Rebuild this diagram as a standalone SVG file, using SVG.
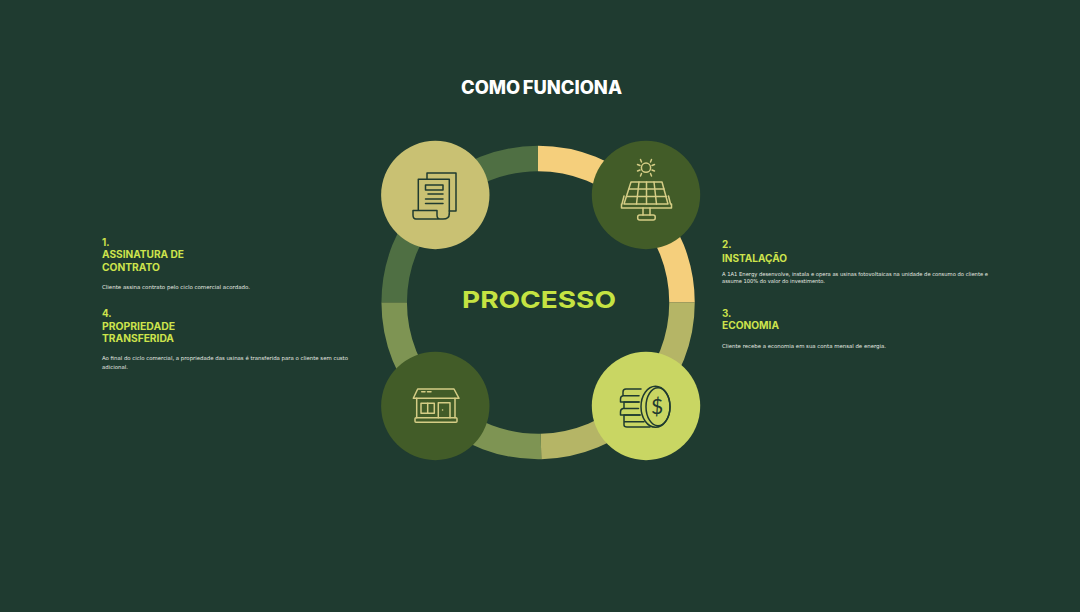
<svg xmlns="http://www.w3.org/2000/svg" width="1080" height="612" viewBox="0 0 1080 612">
<style>
text{font-family:"Inter","Liberation Sans",sans-serif}
.ttl{font-size:18.500px;font-weight:800;fill:#fff;word-spacing:-1.500px}
.big{font-size:23.500px;font-weight:700;fill:#c5e342}
.h{font-size:9.800px;font-weight:700;fill:#cde34c}
.b{font-family:"DejaVu Sans",sans-serif;font-size:5.400px;fill:#e6eae2}
.seg{fill:none;stroke-width:25.500}
.ln{fill:none;stroke-width:1.500;stroke-linejoin:round;stroke-linecap:round}
.dk{stroke:#1f3b30}
.lt{stroke:#d5cd85}
</style>
<rect width="1080" height="612" fill="#1f3b30"/>
<text class="ttl" x="461" y="94" textLength="161" lengthAdjust="spacingAndGlyphs">COMO FUNCIONA</text>
<g id="connectors">
<path class="seg" stroke="#4f6f43" d="M394.200 302.500A144 144 0 0 1 538 158.500"/>
<path class="seg" stroke="#f5cf7c" d="M538 158.500A144 144 0 0 1 682 302.500"/>
<path class="seg" stroke="#b5b566" d="M682 302.500A144 144 0 0 1 541 446.500"/>
<path class="seg" stroke="#7e9453" d="M541 446.500A144 144 0 0 1 394.200 302.500"/>
</g>
<text class="big" x="462" y="308" textLength="154" lengthAdjust="spacingAndGlyphs">PROCESSO</text>
<g id="node-1">
<circle cx="435.300" cy="195" r="54.200" fill="#c9c173"/>
<g class="ln dk">
<path d="M427 179V173H456V211H449.300"/>
<path d="M418.300 210V179.300H449.300V214"/>
<path d="M443 219H416Q413 219 413 215V210.500H437V215Q437 219 440 219H443Q449.300 219 449.300 214"/>
<rect x="425.500" y="185" width="17.500" height="5"/>
<path d="M428 194H443M425.500 199H443M425.500 203.500H443"/>
</g>
</g>
<g id="node-2">
<circle cx="646" cy="195" r="54.200" fill="#425c28"/>
<g class="ln lt">
<circle cx="646" cy="167.700" r="4.600"/>
<path d="M640.500 159.500l1 2.500M651.500 159.500l-1 2.500M637.500 164.500l2.500 1M654.500 164.500l-2.500 1M637.500 171l2.500-1M654.500 171l-2.500-1M640.500 176l1-2.500M651.500 176l-1-2.500"/>
<path d="M631 182H662L668 204H624Z"/>
<path d="M622 204L624 196M670.500 204L668.500 196M621.500 204V208H671.500V204"/>
<path d="M629 189H664M626.500 196.500H666.500"/>
<path d="M639 182L636.500 204M646.500 182V204M654 182L656.500 204"/>
<path d="M643 208V215M650 208V215"/>
<rect x="637.700" y="215" width="17.500" height="5" rx="2"/>
</g>
</g>
<g id="node-3">
<circle cx="646" cy="406" r="54.200" fill="#c9d663"/>
<g class="ln dk">
<ellipse cx="655.500" cy="406.700" rx="14.500" ry="20.500"/>
<ellipse cx="658" cy="406.700" rx="12" ry="19"/>
<path d="M641 389H626Q623 389 623 392V395.700H639M637.500 395.700H623Q620.500 396 620.500 399V402H639"/>
<path d="M639 402H624V408.500H638.500M638.500 408.500H623Q620.500 409 620.500 412V415H640"/>
<path d="M640 415H624V421.700H644M624 421.700V425Q624 427 627 427H650"/>
</g>
<text x="657" y="414" text-anchor="middle" style="font-family:'Lato',sans-serif;font-size:21px;fill:#1f3b30">$</text>
</g>
<g id="node-4">
<circle cx="435.300" cy="406" r="54.200" fill="#425c28"/>
<g class="ln lt">
<path d="M417.700 389H454L459 398.300H413.300Z"/>
<path d="M421.700 391.700H425M427.500 391.700H431"/>
<path d="M416.700 398.300V417.700M455 398.300V417.700"/>
<rect x="415" y="417.700" width="42" height="4.600" rx="1"/>
<rect x="421" y="403.300" width="13.300" height="10"/>
<path d="M427.700 403.300V413.300"/>
<path d="M438.300 417.700V402.700H450V417.700"/>
<path d="M442.500 410H442.600"/>
</g>
</g>
<g id="label-1">
<text class="h" x="102" y="246">1.</text>
<text class="h" x="102" y="258" textLength="82" lengthAdjust="spacingAndGlyphs">ASSINATURA DE</text>
<text class="h" x="102" y="271" textLength="58" lengthAdjust="spacingAndGlyphs">CONTRATO</text>
<text class="b" x="102" y="288.700" textLength="148" lengthAdjust="spacingAndGlyphs">Cliente assina contrato pelo ciclo comercial acordado.</text>
</g>
<g id="label-4">
<text class="h" x="102" y="316.500">4.</text>
<text class="h" x="102" y="329.500" textLength="73" lengthAdjust="spacingAndGlyphs">PROPRIEDADE</text>
<text class="h" x="102" y="342" textLength="72" lengthAdjust="spacingAndGlyphs">TRANSFERIDA</text>
<text class="b" x="102" y="360" textLength="246" lengthAdjust="spacingAndGlyphs">Ao final do ciclo comercial, a propriedade das usinas é transferida para o cliente sem custo</text>
<text class="b" x="102" y="369" textLength="26" lengthAdjust="spacingAndGlyphs">adicional.</text>
</g>
<g id="label-2">
<text class="h" x="722" y="248">2.</text>
<text class="h" x="722" y="261.700" textLength="65" lengthAdjust="spacingAndGlyphs">INSTALAÇÃO</text>
<text class="b" x="722" y="275.500" textLength="266" lengthAdjust="spacingAndGlyphs">A 1A1 Energy desenvolve, instala e opera as usinas fotovoltaicas na unidade de consumo do cliente e</text>
<text class="b" x="722" y="283.300" textLength="103" lengthAdjust="spacingAndGlyphs">assume 100% do valor do investimento.</text>
</g>
<g id="label-3">
<text class="h" x="722" y="316.700">3.</text>
<text class="h" x="722" y="329.300" textLength="57" lengthAdjust="spacingAndGlyphs">ECONOMIA</text>
<text class="b" x="722" y="347.700" textLength="164" lengthAdjust="spacingAndGlyphs">Cliente recebe a economia em sua conta mensal de energia.</text>
</g>
</svg>
